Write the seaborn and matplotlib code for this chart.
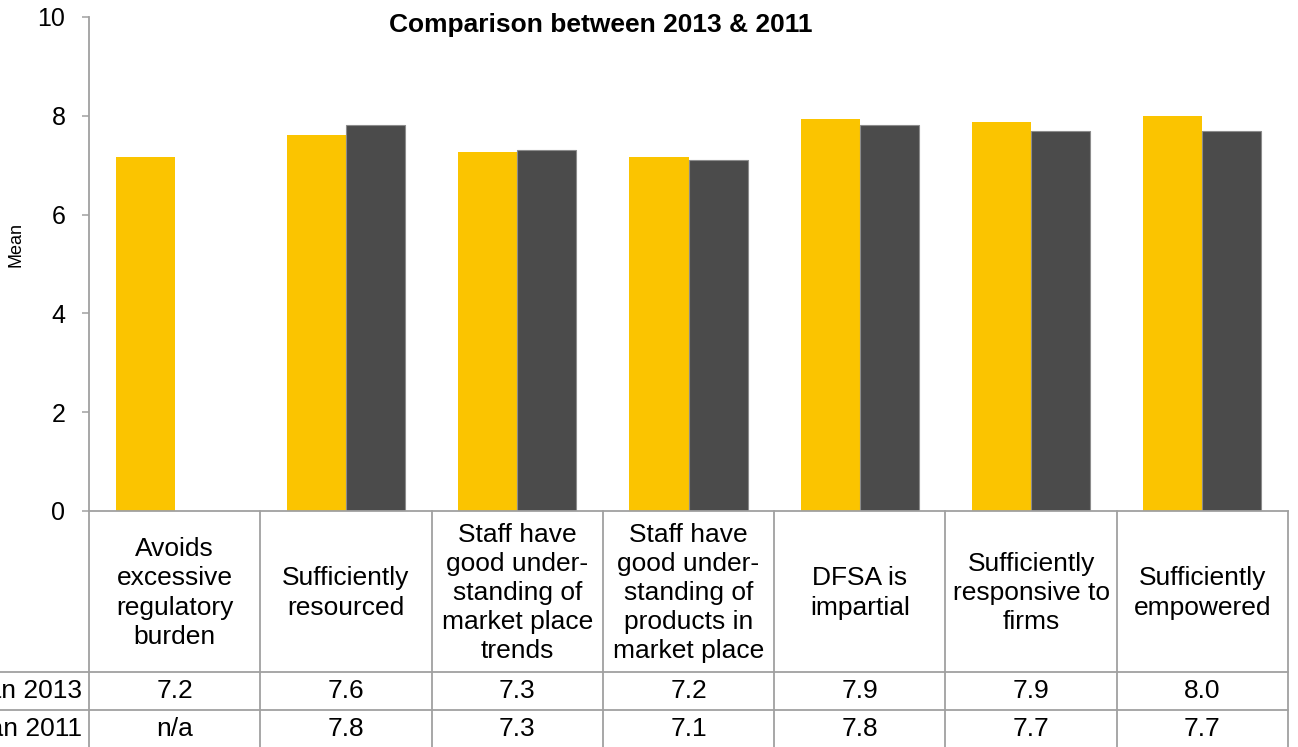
import numpy as np
import pandas as pd
import matplotlib
matplotlib.use("Agg")
import matplotlib.pyplot as plt
import seaborn as sns
from matplotlib.lines import Line2D
from matplotlib.transforms import blended_transform_factory

# ---- data ----
categories = [
    "Avoids\nexcessive\nregulatory\nburden",
    "Sufficiently\nresourced",
    "Staff have\ngood under-\nstanding of\nmarket place\ntrends",
    "Staff have\ngood under-\nstanding of\nproducts in\nmarket place",
    "DFSA is\nimpartial",
    "Sufficiently\nresponsive to\nfirms",
    "Sufficiently\nempowered",
]
mean_2013 = [7.17, 7.62, 7.27, 7.16, 7.93, 7.88, 8.00]
mean_2011 = [np.nan, 7.81, 7.31, 7.10, 7.81, 7.70, 7.70]
series_names = ["Mean 2013", "Mean 2011"]
yticks = [0, 2, 4, 6, 8, 10]

sns.set_theme(style="white")
plt.rcParams["font.family"] = ["Liberation Sans", "DejaVu Sans"]

W, H = 1298, 747
fig = plt.figure(figsize=(W / 100, H / 100), dpi=100)
ax_left, ax_right, ax_top, ax_bottom = 89 / W, 1288 / W, 1 - 17 / H, 1 - 511 / H
ax = fig.add_axes([ax_left, ax_bottom, ax_right - ax_left, ax_top - ax_bottom])

idx = list(range(len(categories)))
df = pd.DataFrame({
    "cat": idx * 2,
    "series": [series_names[0]] * len(idx) + [series_names[1]] * len(idx),
    "value": mean_2013 + mean_2011,
})
df = df.dropna()

yellow = "#FBC400"
dark = "#4B4B4B"
sns.barplot(data=df, x="cat", y="value", hue="series", hue_order=series_names,
            order=idx, palette=[yellow, dark], width=0.69, gap=0,
            errorbar=None, ax=ax, legend=False, saturation=1)
for p in ax.patches:
    fc = p.get_facecolor()
    if abs(fc[0] - 0x4B / 255) < 0.02:
        p.set_edgecolor("#8C8C8C")
        p.set_linewidth(0.8)
    else:
        p.set_edgecolor("none")

ax.set_xlim(-0.5, len(categories) - 0.5)
ax.set_ylim(0, 10)
ax.set_yticks(yticks)
ax.set_yticklabels([str(t) for t in yticks], fontsize=18, color="black")
ax.set_xticks([])
ax.set_xlabel("")
ax.set_ylabel("Mean", fontsize=13, color="black")
ax.yaxis.set_label_coords(-0.0534, 0.54)
ax.tick_params(axis="y", which="major", direction="out", length=5, width=1.1,
               color="#A0A0A0", pad=12, left=True)
for s in ["top", "right"]:
    ax.spines[s].set_visible(False)
for s in ["left", "bottom"]:
    ax.spines[s].set_color("#A0A0A0")
    ax.spines[s].set_linewidth(1.3)

fig.text(601 / W, 1 - 25 / H, "Comparison between 2013 & 2011",
         ha="center", va="center", fontsize=19, fontweight="bold", color="black")

# ---- data table below the axes ----
grid_col = "#A0A0A0"
tr = blended_transform_factory(ax.transData, fig.transFigure)
y_header_top = ax_bottom
y_row1_top = 1 - 672 / H
y_row2_top = 1 - 710 / H
y_bottom = 0.0

for k in range(len(categories) + 1):
    x = k - 0.5
    fig.add_artist(Line2D([x, x], [y_header_top, y_bottom], transform=tr,
                          color=grid_col, linewidth=1.3, clip_on=False))
for yy in [y_row1_top, y_row2_top]:
    fig.add_artist(Line2D([0, ax_right], [yy, yy], transform=fig.transFigure,
                          color=grid_col, linewidth=1.3))

for i, c in enumerate(categories):
    fig.text(i, (y_header_top + y_row1_top) / 2 - 0.002, c, transform=tr,
             ha="center", va="center", fontsize=19, linespacing=1.27, color="black")
    v13 = mean_2013[i]
    v11 = mean_2011[i]
    fig.text(i, (y_row1_top + y_row2_top) / 2, "n/a" if np.isnan(v13) else f"{v13:.1f}",
             transform=tr, ha="center", va="center", fontsize=19, color="black")
    fig.text(i, (y_row2_top + y_bottom) / 2, "n/a" if np.isnan(v11) else f"{v11:.1f}",
             transform=tr, ha="center", va="center", fontsize=19, color="black")

fig.text(82 / W, (y_row1_top + y_row2_top) / 2, series_names[0], ha="right", va="center",
         fontsize=19, color="black")
fig.text(82 / W, (y_row2_top + y_bottom) / 2, series_names[1], ha="right", va="center",
         fontsize=19, color="black")

fig.savefig("out.png", dpi=100)
